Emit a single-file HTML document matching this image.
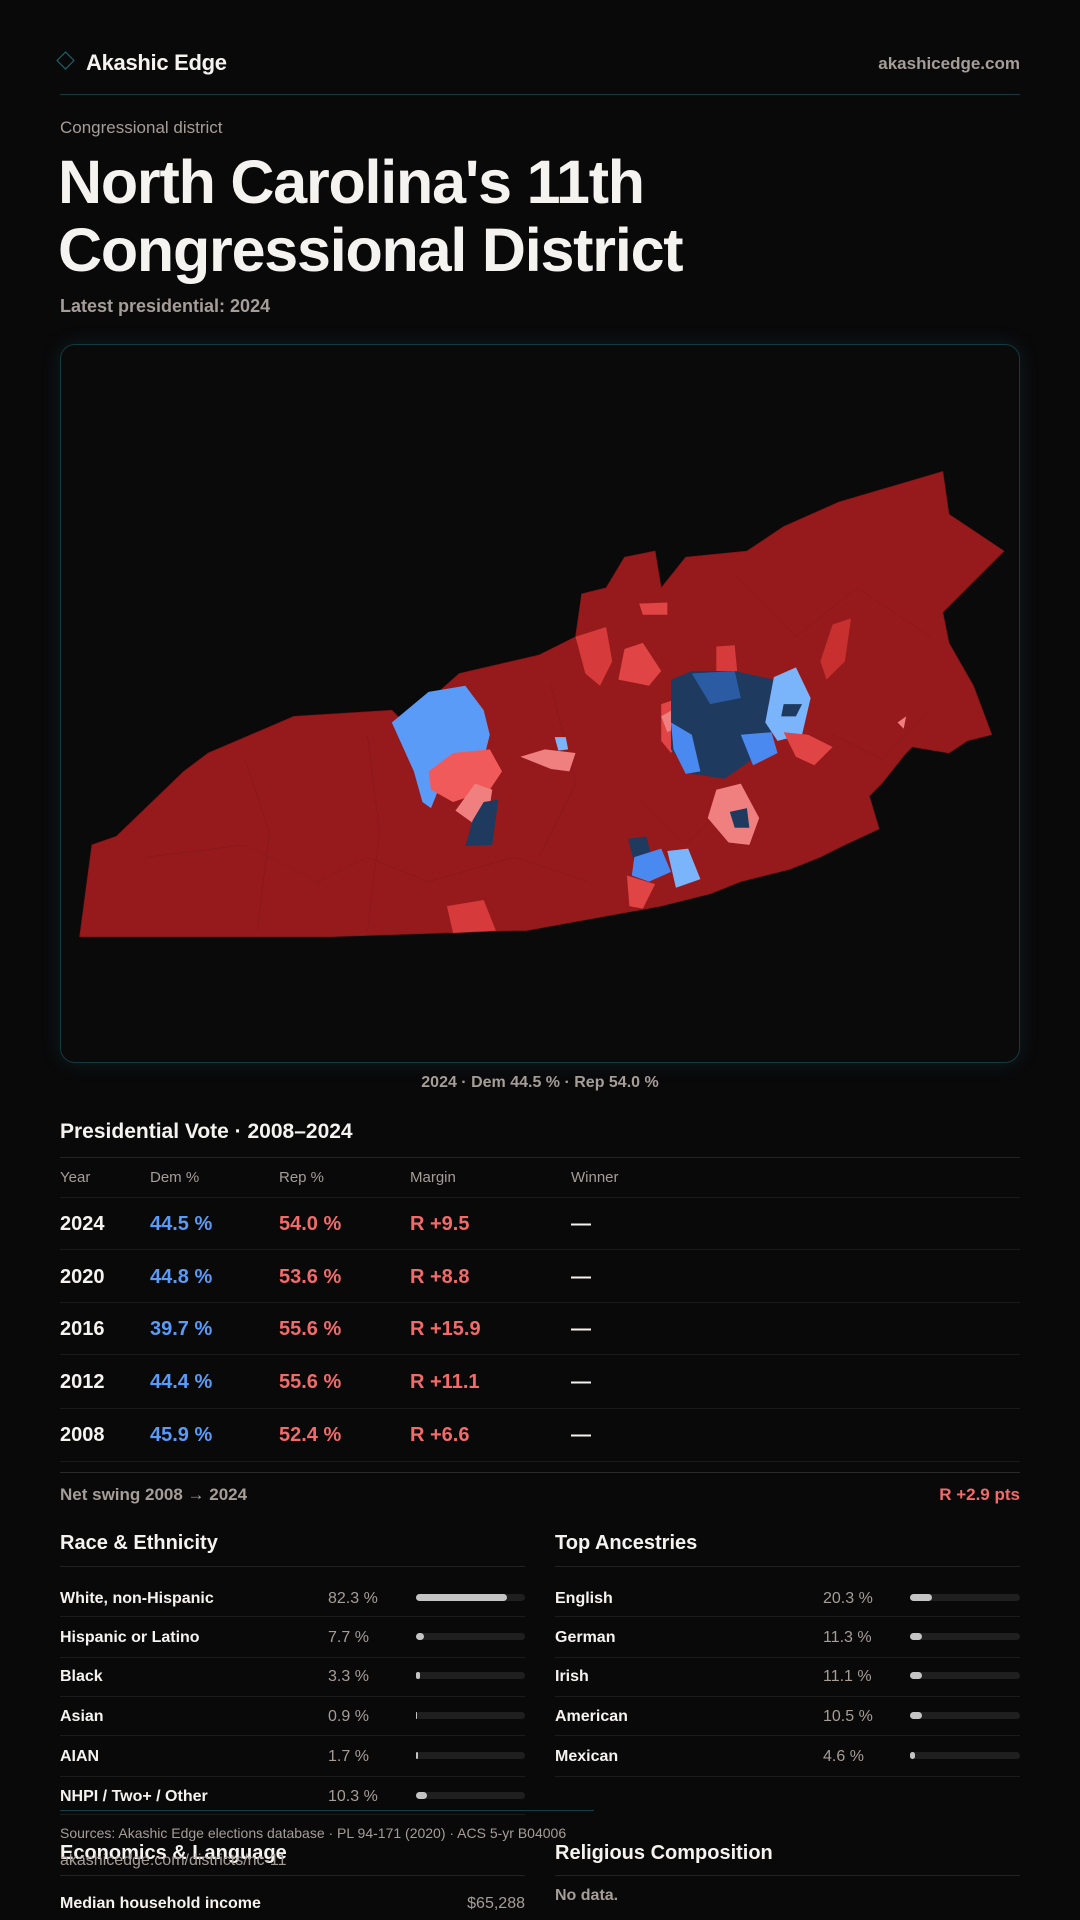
<!DOCTYPE html>
<html><head><meta charset="utf-8">
<style>
*{margin:0;padding:0;box-sizing:border-box}
body{width:1080px;height:1920px;background:#0a090a;font-family:"Liberation Sans",sans-serif;color:#f5f3f0;position:relative;overflow:hidden}
.a{position:absolute;white-space:nowrap}
.mut{color:#a59d97}
.hl{position:absolute;height:1px;background:#222}
.dem{color:#5b9bf8}.rep{color:#f26a6a}
.bar{position:absolute;height:7px;border-radius:4px;background:#1f1f1f}
.bar i{position:absolute;left:0;top:0;height:7px;border-radius:4px;background:#c4c4c4}
</style></head><body>
<div class="a" style="left:59px;top:54px;width:13px;height:13px;border:1.5px solid #1d6b74;transform:rotate(45deg)"></div>
<div class="a" style="left:86px;top:50px;font-size:22px;font-weight:bold;letter-spacing:-0.3px">Akashic Edge</div>
<div class="a mut" style="right:60px;top:54px;font-size:17px;font-weight:bold">akashicedge.com</div>
<div class="hl" style="left:60px;width:960px;top:94px;background:#163a40"></div>
<div class="a mut" style="left:60px;top:118px;font-size:17px">Congressional district</div>
<div class="a" style="left:58px;top:148px;font-size:61px;font-weight:bold;line-height:68px;letter-spacing:-1.2px">North Carolina's 11th<br>Congressional District</div>
<div class="a mut" style="left:60px;top:296px;font-size:18px;font-weight:bold">Latest presidential: 2024</div>
<div class="a" style="left:60px;top:344px;width:960px;height:719px;border:1px solid #123a40;border-radius:15px;background:#0b0a0b;box-shadow:0 0 18px rgba(20,90,100,0.25)"></div>
<svg class="a" style="left:0;top:0" width="1080" height="1920" viewBox="0 0 882 1568">
<polygon fill="#961a1c" stroke="#7a1516" stroke-width="0.5" points="65,765 75,690 95,683 150,630 170,615 240,585 320,580 330,590 375,550 440,535 470,520 475,485 495,480 510,455 535,450 540,480 560,455 610,450 640,430 685,410 770,385 775,420 790,430 820,450 800,470 790,480 770,500 775,525 795,560 810,600 790,605 775,615 745,610 740,615 720,640 710,650 718,677 690,690 670,700 645,710 605,720 580,730 540,740 430,760 420,760 270,765"/>
<g stroke="#801718" stroke-width="0.4" fill="none">
<path d="M120,700 L200,690 L260,720 L300,700 L350,720 L420,700 L480,720"/><path d="M200,620 L220,680 L210,760"/><path d="M300,600 L310,680 L300,760"/><path d="M450,560 L470,640 L440,700"/><path d="M600,470 L650,520 L700,480 L760,520"/><path d="M680,600 L720,620 L760,580"/><path d="M520,650 L560,690 L600,650"/>
</g>
<polygon fill="#d63a3a" points="365,740 395,735 405,760 370,762"/>
<polygon fill="#d63a3a" points="470,520 495,512 500,540 490,560 478,550"/>
<polygon fill="#e04444" points="510,530 525,525 540,548 530,560 505,555"/>
<polygon fill="#d63a3a" points="585,528 600,527 602,548 585,550"/>
<polygon fill="#c83030" points="680,510 695,505 690,540 675,555 670,540"/>
<polygon fill="#e04444" points="522,493 545,492 545,502 525,502"/>
<polygon fill="#5b9bf8" points="320,590 350,565 380,560 395,580 400,600 395,620 370,625 360,640 352,660 345,655 338,630"/>
<polygon fill="#f05a5a" points="350,630 370,615 400,612 410,630 400,645 385,650 370,655 352,645"/>
<polygon fill="#f08080" points="388,640 402,645 398,672 386,672 372,662"/>
<polygon fill="#1f3a5f" points="395,655 407,653 402,690 380,691 386,670"/>
<polygon fill="#f08080" points="425,618 445,612 470,615 465,630 450,628"/>
<polygon fill="#7ab4fb" points="453,602 462,602 464,612 456,613"/>
<polygon fill="#e04444" points="540,575 555,570 560,600 548,615 540,605"/>
<polygon fill="#f08080" points="540,585 552,578 556,592 545,598"/>
<polygon fill="#1f3a5f" points="548,555 565,548 600,548 632,555 630,600 612,622 592,636 565,632 548,612"/>
<polygon fill="#2b5ca3" points="565,550 600,548 605,570 580,575"/>
<polygon fill="#4a8af0" points="548,590 565,600 572,630 560,632 550,612"/>
<polygon fill="#7ab4fb" points="632,553 650,545 662,570 655,600 635,605 625,590"/>
<polygon fill="#4a8af0" points="605,600 630,598 635,615 615,625"/>
<polygon fill="#e04444" points="640,598 660,600 680,610 665,625 650,618"/>
<polygon fill="#1f3a5f" points="640,575 655,575 650,585 638,585"/>
<polygon fill="#f08080" points="585,645 605,640 620,668 612,690 595,688 578,668"/>
<polygon fill="#1f3a5f" points="596,663 610,660 612,676 600,676"/>
<polygon fill="#1f3a5f" points="513,685 528,683 532,700 518,705"/>
<polygon fill="#4a8af0" points="518,700 540,693 548,712 530,720 516,715"/>
<polygon fill="#7ab4fb" points="545,695 562,693 572,718 552,725"/>
<polygon fill="#e04444" points="512,715 535,722 525,742 514,740"/>
<polygon fill="#f08080" points="733,590 740,585 738,595"/>
</svg>
<div class="a mut" style="left:0;width:1080px;text-align:center;top:1074px;font-size:16px;font-weight:bold">2024 · Dem 44.5 % · Rep 54.0 %</div>
<div class="a" style="left:60px;top:1120px;font-size:21px;font-weight:bold">Presidential Vote · 2008–2024</div>
<div class="hl" style="left:60px;width:960px;top:1157px"></div>
<div class="a mut" style="left:60px;top:1169px;font-size:15px">Year</div>
<div class="a mut" style="left:150px;top:1169px;font-size:15px">Dem %</div>
<div class="a mut" style="left:279px;top:1169px;font-size:15px">Rep %</div>
<div class="a mut" style="left:410px;top:1169px;font-size:15px">Margin</div>
<div class="a mut" style="left:571px;top:1169px;font-size:15px">Winner</div>
<div class="hl" style="left:60px;width:960px;top:1197px;background:#1a1a1a"></div>

<div style="position:absolute;left:60px;top:1213px;font-size:20px;font-weight:bold">
<div class="a" style="left:0;top:0">2024</div><div class="a dem" style="left:90px;top:0">44.5 %</div><div class="a rep" style="left:219px;top:0">54.0 %</div><div class="a rep" style="left:350px;top:0">R +9.5</div><div class="a" style="left:511px;top:0">—</div>
<div class="a" style="left:0;top:53px">2020</div><div class="a dem" style="left:90px;top:53px">44.8 %</div><div class="a rep" style="left:219px;top:53px">53.6 %</div><div class="a rep" style="left:350px;top:53px">R +8.8</div><div class="a" style="left:511px;top:53px">—</div>
<div class="a" style="left:0;top:105px">2016</div><div class="a dem" style="left:90px;top:105px">39.7 %</div><div class="a rep" style="left:219px;top:105px">55.6 %</div><div class="a rep" style="left:350px;top:105px">R +15.9</div><div class="a" style="left:511px;top:105px">—</div>
<div class="a" style="left:0;top:158px">2012</div><div class="a dem" style="left:90px;top:158px">44.4 %</div><div class="a rep" style="left:219px;top:158px">55.6 %</div><div class="a rep" style="left:350px;top:158px">R +11.1</div><div class="a" style="left:511px;top:158px">—</div>
<div class="a" style="left:0;top:211px">2008</div><div class="a dem" style="left:90px;top:211px">45.9 %</div><div class="a rep" style="left:219px;top:211px">52.4 %</div><div class="a rep" style="left:350px;top:211px">R +6.6</div><div class="a" style="left:511px;top:211px">—</div>
</div>
<div class="hl" style="left:60px;width:960px;top:1249px;background:#1a1a1a"></div>
<div class="hl" style="left:60px;width:960px;top:1302px;background:#1a1a1a"></div>
<div class="hl" style="left:60px;width:960px;top:1354px;background:#1a1a1a"></div>
<div class="hl" style="left:60px;width:960px;top:1408px;background:#1a1a1a"></div>
<div class="hl" style="left:60px;width:960px;top:1461px;background:#1a1a1a"></div>
<div class="hl" style="left:60px;width:960px;top:1472px;background:#2a2a2a"></div>
<div class="a mut" style="left:60px;top:1485px;font-size:17px;font-weight:bold">Net swing 2008 → 2024</div>
<div class="a rep" style="right:60px;top:1485px;font-size:17px;font-weight:bold">R +2.9 pts</div>

<div class="a" style="left:60px;top:1532px;font-size:20px;font-weight:bold">Race &amp; Ethnicity</div>
<div class="a" style="left:555px;top:1532px;font-size:20px;font-weight:bold">Top Ancestries</div>
<div class="hl" style="left:60px;width:465px;top:1566px"></div>
<div class="hl" style="left:555px;width:465px;top:1566px"></div>

<div style="position:absolute;left:0;top:3px;font-size:16px;font-weight:bold">
<div class="a" style="left:60px;top:1587px">White, non-Hispanic</div><div class="a mut" style="left:328px;top:1587px;font-weight:normal">82.3 %</div>
<div class="a" style="left:60px;top:1626px">Hispanic or Latino</div><div class="a mut" style="left:328px;top:1626px;font-weight:normal">7.7 %</div>
<div class="a" style="left:60px;top:1665px">Black</div><div class="a mut" style="left:328px;top:1665px;font-weight:normal">3.3 %</div>
<div class="a" style="left:60px;top:1705px">Asian</div><div class="a mut" style="left:328px;top:1705px;font-weight:normal">0.9 %</div>
<div class="a" style="left:60px;top:1745px">AIAN</div><div class="a mut" style="left:328px;top:1745px;font-weight:normal">1.7 %</div>
<div class="a" style="left:60px;top:1785px">NHPI / Two+ / Other</div><div class="a mut" style="left:328px;top:1785px;font-weight:normal">10.3 %</div>
<div class="a" style="left:555px;top:1587px">English</div><div class="a mut" style="left:823px;top:1587px;font-weight:normal">20.3 %</div>
<div class="a" style="left:555px;top:1626px">German</div><div class="a mut" style="left:823px;top:1626px;font-weight:normal">11.3 %</div>
<div class="a" style="left:555px;top:1665px">Irish</div><div class="a mut" style="left:823px;top:1665px;font-weight:normal">11.1 %</div>
<div class="a" style="left:555px;top:1705px">American</div><div class="a mut" style="left:823px;top:1705px;font-weight:normal">10.5 %</div>
<div class="a" style="left:555px;top:1745px">Mexican</div><div class="a mut" style="left:823px;top:1745px;font-weight:normal">4.6 %</div>
</div>
<div class="bar" style="left:416px;width:109px;top:1594px"><i style="width:91px"></i></div>
<div class="bar" style="left:416px;width:109px;top:1633px"><i style="width:8px"></i></div>
<div class="bar" style="left:416px;width:109px;top:1672px"><i style="width:4px"></i></div>
<div class="bar" style="left:416px;width:109px;top:1712px"><i style="width:1px"></i></div>
<div class="bar" style="left:416px;width:109px;top:1752px"><i style="width:2px"></i></div>
<div class="bar" style="left:416px;width:109px;top:1792px"><i style="width:11px"></i></div>
<div class="bar" style="left:910px;width:110px;top:1594px"><i style="width:22px"></i></div>
<div class="bar" style="left:910px;width:110px;top:1633px"><i style="width:12px"></i></div>
<div class="bar" style="left:910px;width:110px;top:1672px"><i style="width:12px"></i></div>
<div class="bar" style="left:910px;width:110px;top:1712px"><i style="width:12px"></i></div>
<div class="bar" style="left:910px;width:110px;top:1752px"><i style="width:5px"></i></div>
<div class="hl" style="left:60px;width:465px;top:1616px;background:#1c1c1c"></div>
<div class="hl" style="left:60px;width:465px;top:1657px;background:#1c1c1c"></div>
<div class="hl" style="left:60px;width:465px;top:1696px;background:#1c1c1c"></div>
<div class="hl" style="left:60px;width:465px;top:1735px;background:#1c1c1c"></div>
<div class="hl" style="left:60px;width:465px;top:1776px;background:#1c1c1c"></div>
<div class="hl" style="left:60px;width:465px;top:1814px;background:#1c1c1c"></div>
<div class="hl" style="left:555px;width:465px;top:1616px;background:#1c1c1c"></div>
<div class="hl" style="left:555px;width:465px;top:1657px;background:#1c1c1c"></div>
<div class="hl" style="left:555px;width:465px;top:1696px;background:#1c1c1c"></div>
<div class="hl" style="left:555px;width:465px;top:1735px;background:#1c1c1c"></div>
<div class="hl" style="left:555px;width:465px;top:1776px;background:#1c1c1c"></div>
<div class="hl" style="left:60px;width:534px;top:1810px;background:#124048"></div>
<div class="a" style="left:60px;top:1842px;font-size:20px;font-weight:bold">Economics &amp; Language</div>
<div class="a" style="left:555px;top:1842px;font-size:20px;font-weight:bold">Religious Composition</div>
<div class="a mut" style="left:60px;top:1825px;font-size:14px">Sources: Akashic Edge elections database · PL 94-171 (2020) · ACS 5-yr B04006</div>
<div class="a mut" style="left:60px;top:1852px;font-size:16px">akashicedge.com/districts/nc-11</div>
<div class="hl" style="left:60px;width:465px;top:1875px"></div>
<div class="hl" style="left:555px;width:465px;top:1875px"></div>
<div class="a" style="left:60px;top:1895px;font-size:16px;font-weight:bold">Median household income</div>
<div class="a mut" style="left:380px;width:145px;text-align:right;top:1895px;font-size:16px">$65,288</div>
<div class="a mut" style="left:555px;top:1887px;font-size:16px;font-weight:bold">No data.</div>
</body></html>
